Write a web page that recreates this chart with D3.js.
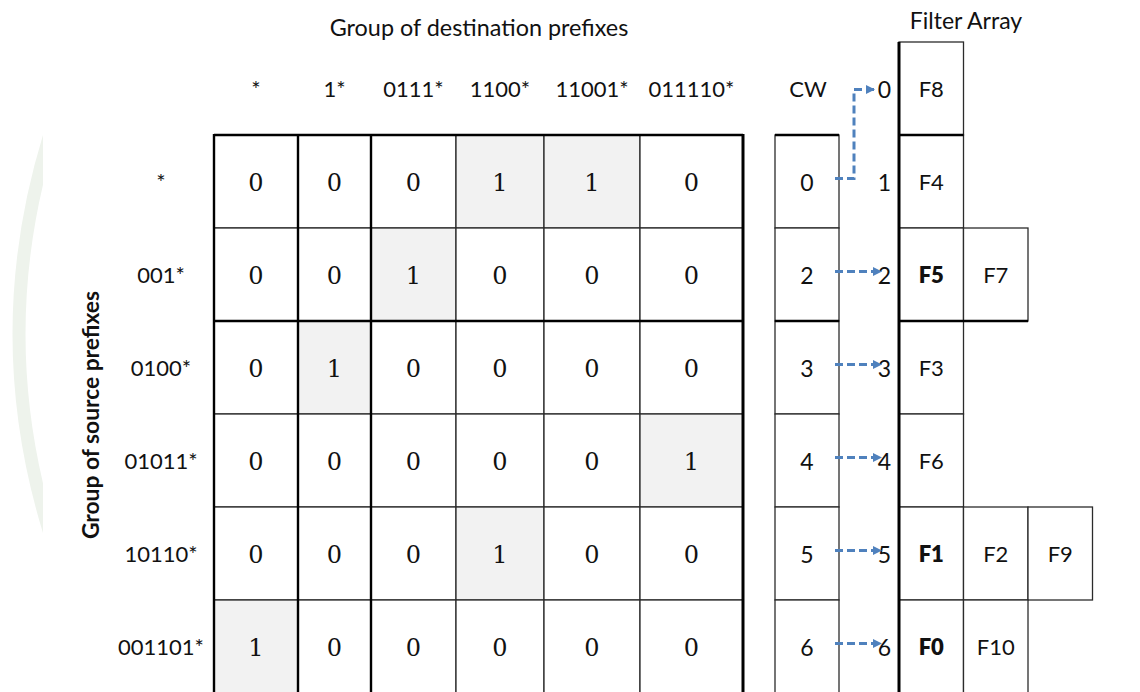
<!DOCTYPE html>
<html>
<head>
<meta charset="utf-8">
<script src="https://cdn.jsdelivr.net/npm/d3@7"></script>
<style>
  body { margin: 0; background: #fff; }
  svg text { fill: #111; }
  .sans { font-family: Lato, "Open Sans", sans-serif; }
  .serif { font-family: "DejaVu Serif", "Liberation Serif", serif; }
</style>
</head>
<body>
<svg id="chart" width="1140" height="692"></svg>
<script>
// --- data ---
const dstPrefixes = ["*", "1*", "0111*", "1100*", "11001*", "011110*"];
const srcPrefixes = ["*", "001*", "0100*", "01011*", "10110*", "001101*"];
const bitMatrix = [
    [0, 0, 0, 1, 1, 0],
    [0, 0, 1, 0, 0, 0],
    [0, 1, 0, 0, 0, 0],
    [0, 0, 0, 0, 0, 1],
    [0, 0, 0, 1, 0, 0],
    [1, 0, 0, 0, 0, 0]
];
const cwValues = [0, 2, 3, 4, 5, 6];
const filterIndex = [0, 1, 2, 3, 4, 5, 6];
const filterLists = [["F8"], ["F4"], ["F5", "F7"], ["F3"], ["F6"], ["F1", "F2", "F9"], ["F0", "F10"]];

// --- layout ---
const rowH = 93;
const matLeft = 214, matTop = 135;
const colWidths = [84, 73, 85, 88, 96, 103];
const cwLeft = 775, cwWidth = 64;
const faLeft = 899, faCellW = 64.5;
const thickRowEdges = [0, 2];      // row boundaries drawn heavy
const thickColEdges = [0, 1, 2, 6];
const arrowColor = "#4f81bd";

const svg = d3.select("#chart");

const colEdges = [0, ...d3.cumsum(colWidths)].map(d => matLeft + d);
const x = d3.scaleOrdinal().domain(dstPrefixes).range(colEdges.slice(0, -1));
const w = d3.scaleOrdinal().domain(dstPrefixes).range(colWidths);
const y = d3.scaleBand().domain(srcPrefixes).range([matTop, matTop + rowH * srcPrefixes.length]);
const yIdx = d3.scaleBand().domain(filterIndex).range([matTop - rowH, matTop - rowH + rowH * filterIndex.length]);
const xFa = d3.scaleLinear().domain([0, 1]).range([faLeft, faLeft + faCellW]);

// faint background arc (slide decoration)
svg.append("clipPath").attr("id", "arcClip")
    .append("rect").attr("x", 0).attr("y", 0).attr("width", 43).attr("height", 692);
svg.append("path")
    .attr("clip-path", "url(#arcClip)")
    .attr("d", "M52,128 Q-14,334 52,540")
    .attr("fill", "none")
    .attr("stroke", "#eef3ec")
    .attr("stroke-width", 13);

// titles
svg.append("text").attr("class", "sans")
    .attr("x", 479).attr("y", 27)
    .attr("text-anchor", "middle").attr("dominant-baseline", "central")
    .style("font-size", "23.4px")
    .text("Group of destination prefixes");

svg.append("text").attr("class", "sans")
    .attr("x", 966).attr("y", 20)
    .attr("text-anchor", "middle").attr("dominant-baseline", "central")
    .style("font-size", "23px")
    .text("Filter Array");

svg.append("text").attr("class", "sans")
    .attr("transform", "translate(90,415) rotate(-90)")
    .attr("text-anchor", "middle").attr("dominant-baseline", "central")
    .style("font-size", "22.8px").style("font-weight", 700)
    .text("Group of source prefixes");

// column headers
svg.append("g").selectAll("text")
    .data(dstPrefixes)
    .join("text").attr("class", "sans")
    .attr("x", d => x(d) + w(d) / 2)
    .attr("y", 88)
    .attr("text-anchor", "middle").attr("dominant-baseline", "central")
    .style("font-size", "22px")
    .text(d => d);

svg.append("text").attr("class", "sans")
    .attr("x", cwLeft + cwWidth / 2 + 1).attr("y", 88)
    .attr("text-anchor", "middle").attr("dominant-baseline", "central")
    .style("font-size", "22px")
    .text("CW");

// row headers
svg.append("g").selectAll("text")
    .data(srcPrefixes)
    .join("text").attr("class", "sans")
    .attr("x", 161)
    .attr("y", d => y(d) + rowH / 2)
    .attr("text-anchor", "middle").attr("dominant-baseline", "central")
    .style("font-size", "22px")
    .text(d => d);

// bit matrix cells
const cells = bitMatrix.flatMap((row, i) => row.map((v, j) => ({ src: srcPrefixes[i], dst: dstPrefixes[j], v })));
const cellG = svg.append("g").selectAll("g")
    .data(cells)
    .join("g");
cellG.append("rect")
    .attr("x", d => x(d.dst))
    .attr("y", d => y(d.src))
    .attr("width", d => w(d.dst))
    .attr("height", rowH)
    .attr("fill", d => d.v ? "#f2f2f2" : "#fff")
    .attr("stroke", "#2b2b2b")
    .attr("stroke-width", 1.3);
cellG.append("text").attr("class", "serif")
    .attr("x", d => x(d.dst) + w(d.dst) / 2)
    .attr("y", d => y(d.src) + rowH / 2 + 1)
    .attr("text-anchor", "middle").attr("dominant-baseline", "central")
    .style("font-size", "24px")
    .text(d => d.v);

// heavy grid lines of the matrix
const matBottom = matTop + rowH * srcPrefixes.length;
svg.append("g").selectAll("line")
    .data(thickColEdges)
    .join("line")
    .attr("x1", d => colEdges[d]).attr("x2", d => colEdges[d])
    .attr("y1", matTop - 1).attr("y2", matBottom)
    .attr("stroke", "#000")
    .attr("stroke-width", d => d === 6 ? 3 : 2.4);
svg.append("g").selectAll("line")
    .data(thickRowEdges)
    .join("line")
    .attr("x1", matLeft).attr("x2", colEdges[6])
    .attr("y1", d => matTop + d * rowH).attr("y2", d => matTop + d * rowH)
    .attr("stroke", "#000")
    .attr("stroke-width", 2.4);

// CW column
const cwG = svg.append("g").selectAll("g")
    .data(cwValues.map((v, i) => ({ v, src: srcPrefixes[i] })))
    .join("g");
cwG.append("rect")
    .attr("x", cwLeft).attr("y", d => y(d.src))
    .attr("width", cwWidth).attr("height", rowH)
    .attr("fill", "#fff").attr("stroke", "#2b2b2b").attr("stroke-width", 1.3);
cwG.append("text").attr("class", "sans")
    .attr("x", cwLeft + cwWidth / 2)
    .attr("y", d => y(d.src) + rowH / 2)
    .attr("text-anchor", "middle").attr("dominant-baseline", "central")
    .style("font-size", "23px")
    .text(d => d.v);
svg.append("g").selectAll("line")
    .data(thickRowEdges)
    .join("line")
    .attr("x1", cwLeft).attr("x2", cwLeft + cwWidth)
    .attr("y1", d => matTop + d * rowH).attr("y2", d => matTop + d * rowH)
    .attr("stroke", "#000").attr("stroke-width", 2.4);

// filter array
const faCells = filterLists.flatMap((list, k) => list.map((f, j) => ({ k, j, f, bold: list.length > 1 && j === 0 })));
const faG = svg.append("g").selectAll("g")
    .data(faCells)
    .join("g");
faG.append("rect")
    .attr("x", d => xFa(d.j)).attr("y", d => yIdx(d.k))
    .attr("width", faCellW).attr("height", rowH)
    .attr("fill", "#fff").attr("stroke", "#2b2b2b").attr("stroke-width", 1.3);
faG.append("text").attr("class", "sans")
    .attr("x", d => xFa(d.j) + faCellW / 2)
    .attr("y", d => yIdx(d.k) + rowH / 2)
    .attr("text-anchor", "middle").attr("dominant-baseline", "central")
    .style("font-size", "22px")
    .style("font-weight", d => d.bold ? 800 : 400)
    .text(d => d.f);

svg.append("line")
    .attr("x1", faLeft).attr("x2", faLeft)
    .attr("y1", yIdx(0)).attr("y2", 692)
    .attr("stroke", "#000").attr("stroke-width", 3);
svg.append("g").selectAll("line")
    .data(thickRowEdges)
    .join("line")
    .attr("x1", faLeft)
    .attr("x2", d => xFa(Math.max(filterLists[d].length, filterLists[d + 1].length)))
    .attr("y1", d => matTop + d * rowH).attr("y2", d => matTop + d * rowH)
    .attr("stroke", "#000").attr("stroke-width", 2.4);

// index labels
svg.append("g").selectAll("text")
    .data(filterIndex)
    .join("text").attr("class", "sans")
    .attr("x", 891)
    .attr("y", d => yIdx(d) + rowH / 2)
    .attr("text-anchor", "end").attr("dominant-baseline", "central")
    .style("font-size", "23px")
    .text(d => d);

// arrows CW -> filter index
svg.append("defs").append("marker")
    .attr("id", "arrowhead")
    .attr("viewBox", "0 -5 10 10")
    .attr("refX", 10).attr("refY", 0)
    .attr("markerUnits", "userSpaceOnUse")
    .attr("markerWidth", 10).attr("markerHeight", 9)
    .attr("orient", "auto")
    .append("path")
    .attr("d", "M0,-5L10,0L0,5Z")
    .attr("fill", arrowColor);

const startX = cwLeft + cwWidth - 4;
const elbowX = 854;
svg.append("g").selectAll("path")
    .data(cwValues.map((v, i) => ({ v, src: srcPrefixes[i] })))
    .join("path")
    .attr("d", d => {
        const y0 = y(d.src) + rowH / 2 - 3;
        const y1 = yIdx(d.v) + rowH / 2 - 3;
        if (Math.abs(y0 - y1) < 1) return `M${startX},${y0}H882`;
        return `M${startX},${y0}H${elbowX}V${y1 + 4}H875`;
    })
    .attr("fill", "none")
    .attr("stroke", arrowColor)
    .attr("stroke-width", 3)
    .attr("stroke-dasharray", "8,4")
    .attr("marker-end", "url(#arrowhead)");
</script>
</body>
</html>
